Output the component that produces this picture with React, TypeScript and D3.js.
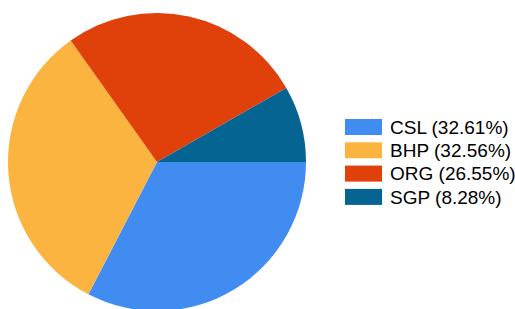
import { useEffect, useRef } from "react"
import * as d3 from "d3"

const tickers = ["CSL", "BHP", "ORG", "SGP"]
const shares = [32.61, 32.56, 26.55, 8.28]
const colors = ["#418cf0", "#fcb441", "#e0400a", "#056492"]

export default function App() {
  const svgRef = useRef<SVGSVGElement | null>(null)

  useEffect(() => {
    const width = 515
    const height = 309
    const svg = d3.select(svgRef.current).attr("width", width).attr("height", height)
    svg.selectAll("*").remove()

    const data = tickers.map((t, i) => ({ name: t, value: shares[i], color: colors[i] }))

    const pie = d3
      .pie<{ name: string; value: number; color: string }>()
      .value((d) => d.value)
      .sort(null)
      .startAngle(Math.PI / 2)
      .endAngle(Math.PI / 2 + 2 * Math.PI)

    const arc = d3.arc<d3.PieArcDatum<{ name: string; value: number; color: string }>>()
      .innerRadius(0)
      .outerRadius(149)

    const g = svg.append("g").attr("transform", "translate(157,162)")
    g.selectAll("path")
      .data(pie(data))
      .enter()
      .append("path")
      .attr("d", arc)
      .attr("fill", (d) => d.data.color)

    // Legend
    const legend = svg.append("g").attr("transform", "translate(345,119)")
    const row = legend
      .selectAll("g")
      .data(data)
      .enter()
      .append("g")
      .attr("transform", (_d, i) => `translate(0,${i * 23.3})`)

    row.append("rect").attr("width", 37).attr("height", 16).attr("fill", (d) => d.color)

    row.append("text")
      .attr("x", 45)
      .attr("y", 8)
      .attr("dy", "0.36em")
      .attr("font-family", "'Liberation Sans', Arial, sans-serif")
      .attr("font-size", 19)
      .attr("fill", "#000")
      .text((d) => `${d.name} (${d.value.toFixed(2)}%)`)
  }, [])

  return (
    <div style={{ position: "absolute", left: 0, top: 0 }}>
      <svg ref={svgRef} style={{ display: "block" }}></svg>
    </div>
  )
}
